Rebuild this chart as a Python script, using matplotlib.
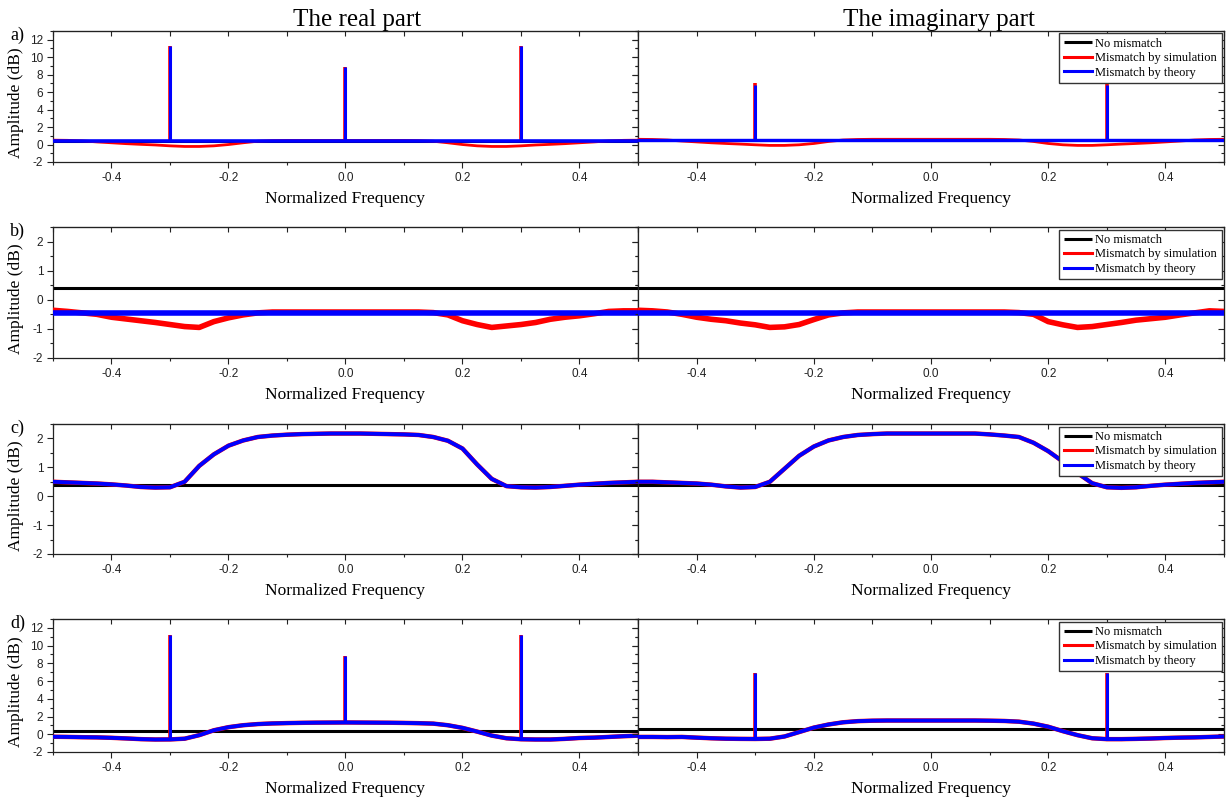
import matplotlib
matplotlib.use("Agg")
import matplotlib.pyplot as plt
from matplotlib.ticker import MultipleLocator, FormatStrFormatter

# ---------------- data ----------------
freq = [-0.5, -0.475, -0.45, -0.425, -0.4, -0.375, -0.35, -0.325, -0.3, -0.275,
        -0.25, -0.225, -0.2, -0.175, -0.15, -0.125, -0.1, -0.075, -0.05, -0.025,
        0.0, 0.025, 0.05, 0.075, 0.1, 0.125, 0.15, 0.175, 0.2, 0.225,
        0.25, 0.275, 0.3, 0.325, 0.35, 0.375, 0.4, 0.425, 0.45, 0.475, 0.5]
freq_ends = [-0.5, 0.5]

row_labels = ["a)", "b)", "c)", "d)"]
col_titles = ["The real part", "The imaginary part"]
legend_labels = ["No mismatch", "Mismatch by simulation", "Mismatch by theory"]
xticks = [-0.4, -0.2, 0.0, 0.2, 0.4]
ylims = [(-2, 13), (-2, 2.5), (-2, 2.5), (-2, 13)]
yticks = [[-2, 0, 2, 4, 6, 8, 10, 12], [-2, -1, 0, 1, 2], [-2, -1, 0, 1, 2],
          [-2, 0, 2, 4, 6, 8, 10, 12]]

# --- row a ---
a_re_black = [0.40, 0.40]
a_re_red = [0.50, 0.48, 0.42, 0.30, 0.20, 0.10, 0.02, -0.05, -0.15, -0.22,
            -0.22, -0.15, 0.00, 0.20, 0.38, 0.45, 0.47, 0.47, 0.47, 0.47,
            0.47, 0.47, 0.47, 0.47, 0.47, 0.45, 0.38, 0.20, 0.00, -0.15,
            -0.22, -0.22, -0.15, -0.05, 0.02, 0.10, 0.20, 0.30, 0.42, 0.48, 0.50]
a_re_blue = [0.40, 0.40]
a_re_spike_f = [-0.3, 0.0, 0.3]
a_re_spike_base = [0.40, 0.40, 0.40]
a_re_spike_top = [11.25, 8.85, 11.25]
a_re_red_spike_top = [11.3, 8.9, 11.3]

a_im_black = [0.50, 0.50]
a_im_red = [0.60, 0.58, 0.52, 0.40, 0.30, 0.20, 0.12, 0.05, -0.03, -0.10,
            -0.10, -0.03, 0.12, 0.35, 0.52, 0.58, 0.60, 0.60, 0.60, 0.60,
            0.60, 0.60, 0.60, 0.60, 0.60, 0.58, 0.52, 0.35, 0.12, -0.03,
            -0.10, -0.10, -0.03, 0.05, 0.12, 0.20, 0.30, 0.40, 0.52, 0.58, 0.60]
a_im_blue = [0.50, 0.50]
a_im_spike_f = [-0.3, 0.3]
a_im_spike_base = [0.50, 0.50]
a_im_spike_top = [6.8, 6.8]
a_im_red_spike_top = [7.0, 6.9]

# --- row b ---
b_re_black = [0.39, 0.39]
b_re_red = [-0.36, -0.40, -0.45, -0.50, -0.60, -0.66, -0.72, -0.78, -0.85, -0.92,
            -0.95, -0.75, -0.62, -0.52, -0.45, -0.42, -0.42, -0.42, -0.42, -0.42,
            -0.42, -0.42, -0.42, -0.42, -0.42, -0.42, -0.44, -0.52, -0.72, -0.85,
            -0.95, -0.90, -0.85, -0.78, -0.67, -0.60, -0.55, -0.48, -0.40, -0.38, -0.38]
b_re_blue = [-0.47, -0.47]

b_im_black = [0.39, 0.39]
b_im_red = [-0.36, -0.38, -0.42, -0.50, -0.60, -0.67, -0.72, -0.80, -0.86, -0.95,
            -0.93, -0.85, -0.68, -0.52, -0.45, -0.42, -0.42, -0.42, -0.42, -0.42,
            -0.42, -0.42, -0.42, -0.42, -0.42, -0.42, -0.44, -0.50, -0.75, -0.86,
            -0.95, -0.92, -0.85, -0.78, -0.70, -0.65, -0.60, -0.52, -0.45, -0.38, -0.40]
b_im_blue = [-0.47, -0.47]

# --- row c ---
c_re_black = [0.40, 0.40]
c_re_theory = [0.50, 0.48, 0.46, 0.44, 0.41, 0.37, 0.32, 0.30, 0.31, 0.50,
               1.05, 1.45, 1.75, 1.93, 2.05, 2.10, 2.13, 2.15, 2.16, 2.17,
               2.17, 2.17, 2.16, 2.15, 2.14, 2.12, 2.05, 1.92, 1.65, 1.10,
               0.60, 0.35, 0.31, 0.30, 0.32, 0.36, 0.40, 0.43, 0.46, 0.48, 0.50]
c_im_black = [0.40, 0.40]
c_im_theory = [0.50, 0.50, 0.48, 0.46, 0.44, 0.40, 0.34, 0.30, 0.32, 0.50,
               0.95, 1.40, 1.72, 1.93, 2.05, 2.12, 2.15, 2.17, 2.17, 2.17,
               2.17, 2.17, 2.17, 2.17, 2.14, 2.10, 2.05, 1.85, 1.56, 1.20,
               0.80, 0.45, 0.31, 0.29, 0.31, 0.36, 0.40, 0.43, 0.46, 0.48, 0.50]

# --- row d ---
d_re_black = [0.40, 0.40]
d_re_theory = [-0.28, -0.30, -0.33, -0.35, -0.40, -0.47, -0.55, -0.59, -0.58, -0.50,
               -0.10, 0.45, 0.80, 1.02, 1.15, 1.22, 1.26, 1.29, 1.31, 1.32,
               1.33, 1.32, 1.31, 1.30, 1.28, 1.25, 1.20, 1.02, 0.72, 0.30,
               -0.15, -0.45, -0.56, -0.59, -0.59, -0.52, -0.42, -0.38, -0.30, -0.22, -0.16]
d_re_spike_f = [-0.3, 0.0, 0.3]
d_re_spike_base = [-0.58, 1.33, -0.56]
d_re_spike_top = [11.25, 8.85, 11.15]

d_im_black = [0.62, 0.62]
d_im_theory = [-0.30, -0.30, -0.32, -0.30, -0.38, -0.45, -0.50, -0.52, -0.53, -0.50,
               -0.25, 0.25, 0.75, 1.10, 1.35, 1.48, 1.53, 1.55, 1.55, 1.55,
               1.55, 1.55, 1.55, 1.55, 1.53, 1.50, 1.42, 1.20, 0.85, 0.35,
               -0.10, -0.45, -0.55, -0.55, -0.52, -0.48, -0.42, -0.38, -0.35, -0.30, -0.25]
d_im_spike_f = [-0.3, 0.3]
d_im_spike_base = [-0.53, -0.55]
d_im_spike_top = [6.9, 6.9]

# ---------------- figure ----------------
SERIF = ["Liberation Serif", "DejaVu Serif"]
SANS = ["Liberation Sans", "DejaVu Sans"]
plt.rcParams["font.family"] = SANS
plt.rcParams["axes.unicode_minus"] = False

fig = plt.figure(figsize=(12.27, 7.98), dpi=100)
W, H = 1227.0, 798.0
x_left, x_mid, x_right = 53, 638, 1224
rows_px = [(31, 162), (227, 358), (424, 554), (619, 752)]

BLACK, RED, BLUE = "#000000", "#ff0000", "#0000ff"

panels = [
    [dict(black=a_re_black, red=(freq, a_re_red), blue=(freq_ends, a_re_blue),
          spikes=(a_re_spike_f, a_re_spike_base, a_re_spike_top),
          rspikes=(a_re_spike_f, a_re_spike_base, a_re_red_spike_top), lw_r=2.0, lw_b=2.6),
     dict(black=a_im_black, red=(freq, a_im_red), blue=(freq_ends, a_im_blue),
          spikes=(a_im_spike_f, a_im_spike_base, a_im_spike_top),
          rspikes=(a_im_spike_f, a_im_spike_base, a_im_red_spike_top), lw_r=2.0, lw_b=2.4)],
    [dict(black=b_re_black, red=(freq, b_re_red), blue=(freq_ends, b_re_blue),
          spikes=None, rspikes=None, lw_r=4.0, lw_b=4.0),
     dict(black=b_im_black, red=(freq, b_im_red), blue=(freq_ends, b_im_blue),
          spikes=None, rspikes=None, lw_r=4.0, lw_b=4.0)],
    [dict(black=c_re_black, red=(freq, c_re_theory), blue=(freq, c_re_theory),
          spikes=None, rspikes=None, lw_r=3.2, lw_b=2.8),
     dict(black=c_im_black, red=(freq, c_im_theory), blue=(freq, c_im_theory),
          spikes=None, rspikes=None, lw_r=3.2, lw_b=2.8)],
    [dict(black=d_re_black, red=(freq, d_re_theory), blue=(freq, d_re_theory),
          spikes=(d_re_spike_f, d_re_spike_base, d_re_spike_top),
          rspikes=(d_re_spike_f, d_re_spike_base, d_re_spike_top), lw_r=3.2, lw_b=2.8),
     dict(black=d_im_black, red=(freq, d_im_theory), blue=(freq, d_im_theory),
          spikes=(d_im_spike_f, d_im_spike_base, d_im_spike_top),
          rspikes=(d_im_spike_f, d_im_spike_base, d_im_spike_top), lw_r=3.2, lw_b=2.8)],
]

for r, (ytop, ybot) in enumerate(rows_px):
    for c in range(2):
        x0 = x_left if c == 0 else x_mid
        x1 = x_mid if c == 0 else x_right
        ax = fig.add_axes([x0 / W, 1 - ybot / H, (x1 - x0) / W, (ybot - ytop) / H])
        p = panels[r][c]
        hb, = ax.plot(freq_ends, p["black"], color=BLACK, lw=2.2, zorder=2,
                      solid_capstyle="butt")
        hr, = ax.plot(p["red"][0], p["red"][1], color=RED, lw=p["lw_r"], zorder=3)
        if p["rspikes"] is not None:
            sf, sb, st = p["rspikes"]
            ax.vlines(sf, sb, st, colors=RED, lw=2.6, zorder=3)
        hbl, = ax.plot(p["blue"][0], p["blue"][1], color=BLUE, lw=p["lw_b"], zorder=4)
        if p["spikes"] is not None:
            sf, sb, st = p["spikes"]
            ax.vlines(sf, sb, st, colors=BLUE, lw=2.2, zorder=4)

        ax.set_xlim(-0.5, 0.5)
        ax.set_ylim(*ylims[r])
        ax.set_xticks(xticks)
        ax.xaxis.set_minor_locator(MultipleLocator(0.1))
        ax.set_yticks(yticks[r])
        ax.yaxis.set_minor_locator(MultipleLocator(1 if r in (0, 3) else 0.5))
        ax.tick_params(axis="both", which="major", direction="out", length=4,
                       width=0.8, labelsize=8.5, colors="#222222", pad=3)
        ax.tick_params(axis="both", which="minor", direction="out", length=2.5,
                       width=0.8, colors="#222222")
        ax.xaxis.set_major_formatter(FormatStrFormatter("%.1f"))
        for sp in ax.spines.values():
            sp.set_linewidth(0.9)
            sp.set_color("#222222")
        top = ax.secondary_xaxis("top")
        top.set_xticks(xticks)
        top.xaxis.set_minor_locator(MultipleLocator(0.1))
        top.tick_params(axis="x", which="both", direction="in", length=3.5,
                        width=0.8, labeltop=False, colors="#222222")
        right = ax.secondary_yaxis("right")
        right.set_yticks(yticks[r])
        right.yaxis.set_minor_locator(MultipleLocator(1 if r in (0, 3) else 0.5))
        right.tick_params(axis="y", which="major", direction="in", length=4,
                          width=0.8, labelright=False, colors="#222222")
        right.tick_params(axis="y", which="minor", direction="in", length=2.5,
                          width=0.8, colors="#222222")
        ax.set_xlabel("Normalized Frequency", family=SERIF, fontsize=12.5, labelpad=5.5)
        if c == 0:
            ax.set_ylabel("Amplitude (dB)", family=SERIF, fontsize=12.5)
            ax.yaxis.set_label_coords(-29.0 / (x1 - x0), 0.45)
        else:
            ax.tick_params(axis="y", which="both", labelleft=False)
            leg = ax.legend([hb, hr, hbl], legend_labels, loc="upper right",
                            prop={"family": SERIF, "size": 9}, frameon=True,
                            fancybox=False, framealpha=1, edgecolor="#333333",
                            borderpad=0.35, labelspacing=0.2, handlelength=2.3,
                            handletextpad=0.25, borderaxespad=0.2)
            leg.get_frame().set_linewidth(1.0)
            for lh in leg.get_lines():
                lh.set_linewidth(2.2)
        if r == 0:
            ax.set_title(col_titles[c], family=SERIF, fontsize=18, pad=2,
                         x=0.52 if c == 0 else 0.514)
    fig.text(10 / W, 1 - (ytop + 4) / H, row_labels[r], family=SERIF, fontsize=13,
             ha="left", va="center")

fig.savefig("out.png", dpi=100, facecolor="white")
